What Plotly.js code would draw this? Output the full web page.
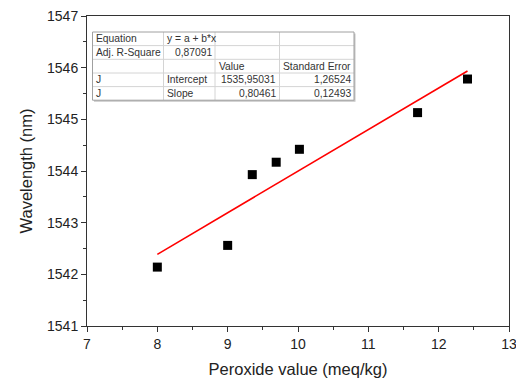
<!DOCTYPE html>
<html>
<head>
<meta charset="utf-8">
<script src="https://cdn.plot.ly/plotly-3.0.1.min.js"></script>
<style>html,body{margin:0;padding:0;background:#fff;}#chart{width:516px;height:381px;}</style>
</head>
<body>
<div id="chart"></div>
<script>
// Data
const peroxide = [8.0, 9.0, 9.35, 9.69, 10.02, 11.7, 12.41];
const wavelength = [1542.14, 1542.56, 1543.93, 1544.17, 1544.42, 1545.13, 1545.78];
const fitIntercept = 1535.95031;
const fitSlope = 0.80461;
const tableRows = [
  ["Equation", "y = a + b*x", "", ""],
  ["Adj. R-Square", "0,87091", "", ""],
  ["", "", "Value", "Standard Error"],
  ["J", "Intercept", "1535,95031", "1,26524"],
  ["J", "Slope", "0,80461", "0,12493"]
];
const tableAlign = [
  ["left", "left", "left", "left"],
  ["left", "right", "left", "left"],
  ["left", "left", "left", "left"],
  ["left", "left", "right", "right"],
  ["left", "left", "right", "right"]
];

// Layout geometry (pixels)
const W = 516, H = 381;
const M = {l: 87, r: 7, t: 16, b: 55};
const PW = W - M.l - M.r, PH = H - M.t - M.b;
const px = x => (x - M.l) / PW;
const py = y => (H - M.b - y) / PH;

const xmin = Math.min(...peroxide), xmax = Math.max(...peroxide);
const fitX = [xmin, xmax];
const fitY = fitX.map(x => fitIntercept + fitSlope * x);

const traces = [
  {x: fitX, y: fitY, mode: 'lines', line: {color: '#ff0000', width: 1.6}, hoverinfo: 'skip'},
  {x: peroxide, y: wavelength, mode: 'markers', marker: {symbol: 'square', size: 9, color: '#000'}}
];

const colX = [92.5, 163.5, 215, 279.5, 354];
const rowY = [32, 45.6, 59.3, 73, 86.6, 100.2];
const shapes = [];
const annotations = [];
shapes.push({type: 'rect', xref: 'paper', yref: 'paper', x0: px(colX[0] + 1.5), x1: px(colX[4] + 1.5), y0: py(rowY[5] + 1.5), y1: py(rowY[0] + 1.5), line: {width: 0}, fillcolor: '#c4c4c4', layer: 'above'});
shapes.push({type: 'rect', xref: 'paper', yref: 'paper', x0: px(colX[0]), x1: px(colX[4]), y0: py(rowY[5]), y1: py(rowY[0]), line: {width: 0}, fillcolor: '#ffffff', layer: 'above'});
for (let i = 1; i < rowY.length - 1; i++) {
  shapes.push({type: 'line', xref: 'paper', yref: 'paper', x0: px(colX[0]), x1: px(colX[4]), y0: py(rowY[i]), y1: py(rowY[i]), line: {color: '#d4d4d4', width: 1}, layer: 'above'});
}
for (let j = 1; j < colX.length - 1; j++) {
  shapes.push({type: 'line', xref: 'paper', yref: 'paper', x0: px(colX[j]), x1: px(colX[j]), y0: py(rowY[0]), y1: py(rowY[5]), line: {color: '#d4d4d4', width: 1}, layer: 'above'});
}
shapes.push({type: 'rect', xref: 'paper', yref: 'paper', x0: px(colX[0]), x1: px(colX[4]), y0: py(rowY[5]), y1: py(rowY[0]), line: {color: '#a0a0a0', width: 1}, layer: 'above'});

tableRows.forEach((row, i) => {
  row.forEach((txt, j) => {
    if (!txt) return;
    const al = tableAlign[i][j];
    annotations.push({
      text: txt, xref: 'paper', yref: 'paper', showarrow: false,
      x: al === 'left' ? px(colX[j] + 1.5) : px(colX[j + 1] - 1.5),
      xanchor: al, yanchor: 'middle',
      y: py((rowY[i] + rowY[i + 1]) / 2),
      font: {family: 'Liberation Sans, Arial, sans-serif', size: 10.3, color: '#333'}
    });
  });
});

const axisCommon = {
  showline: true, linecolor: '#333', linewidth: 1, mirror: true,
  ticks: 'outside', ticklen: 5, tickwidth: 1, tickcolor: '#333',
  showgrid: false, zeroline: false, ticklabeloverflow: 'allow',
  tickfont: {family: 'Liberation Sans, Arial, sans-serif', size: 14, color: '#222'},
  minor: {dtick: 0.5, ticks: 'outside', ticklen: 3, tickwidth: 1, tickcolor: '#333', showgrid: false}
};

const layout = {
  width: W, height: H, margin: M, showlegend: false,
  paper_bgcolor: '#fff', plot_bgcolor: '#fff',
  xaxis: Object.assign({}, axisCommon, {range: [7, 13], dtick: 1, tick0: 7,
    title: {text: 'Peroxide value (meq/kg)', standoff: 12, font: {family: 'Liberation Sans, Arial, sans-serif', size: 16.5, color: '#222'}}}),
  yaxis: Object.assign({}, axisCommon, {range: [1541, 1547], dtick: 1, tick0: 1541, tickformat: 'd',
    title: {text: 'Wavelength (nm)', standoff: 10, font: {family: 'Liberation Sans, Arial, sans-serif', size: 16.5, color: '#222'}}}),
  shapes: shapes, annotations: annotations
};
Plotly.newPlot('chart', traces, layout, {staticPlot: true, displayModeBar: false});
</script>
</body>
</html>
